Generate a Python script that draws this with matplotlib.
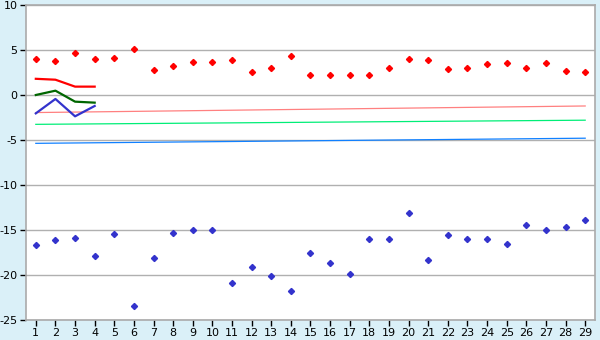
import matplotlib

matplotlib.use("Agg")
import matplotlib.pyplot as plt

plt.rcParams["axes.unicode_minus"] = False
plt.rcParams["font.family"] = ["DejaVu Sans"]

days = list(range(1, 30))

high_pts = [4.0, 3.74, 4.63, 4.0, 4.07, 5.07, 2.74, 3.18, 3.63, 3.63,
            3.85, 2.52, 2.96, 4.3, 2.18, 2.18, 2.18, 2.18, 2.96, 3.96,
            3.85, 2.85, 2.96, 3.41, 3.52, 2.96, 3.52, 2.63, 2.52]
low_pts = [-16.7, -16.15, -15.93, -17.93, -15.48, -23.48, -18.15, -15.37, -15.04, -15.04,
           -20.93, -19.15, -20.15, -21.8, -17.6, -18.7, -19.93, -16.04, -16.04, -13.15,
           -18.37, -15.6, -16.04, -16.04, -16.6, -14.48, -15.04, -14.7, -13.93]

# short series over the first four days
first_days = [1, 2, 3, 4]
red_line = [1.8, 1.7, 0.93, 0.93]
green_line = [0.0, 0.48, -0.74, -0.85]
blue_line = [-2.04, -0.44, -2.37, -1.22]

# long trend lines (start, end)
trend_days = [1, 29]
salmon_trend = [-1.95, -1.22]
mint_trend = [-3.26, -2.8]
azure_trend = [-5.37, -4.8]

fig = plt.figure(figsize=(6, 3.4), dpi=100, facecolor="#daf0f8")
ax = fig.add_axes([26 / 600, 20 / 340, 569 / 600, 315 / 340])
ax.set_facecolor("white")

ax.plot(trend_days, salmon_trend, color="#ff8080", lw=0.9)
ax.plot(trend_days, mint_trend, color="#00ee77", lw=0.9)
ax.plot(trend_days, azure_trend, color="#1080ff", lw=0.9)

ax.plot(first_days, red_line, color="#ff0000", lw=1.6)
ax.plot(first_days, green_line, color="#006600", lw=1.6)
ax.plot(first_days, blue_line, color="#3333cc", lw=1.6)

ax.plot(days, high_pts, ls="none", marker="D", ms=3.1, color="#ff0000", mec="#ff0000")
ax.plot(days, low_pts, ls="none", marker="D", ms=3.1, color="#3333cc", mec="#3333cc")

ax.set_xlim(0.5, 29.5)
ax.set_ylim(-25, 10)
ax.set_xticks(days)
ax.set_yticks([10, 5, 0, -5, -10, -15, -20, -25])
ax.grid(axis="y", color="#b0b0b0", lw=1)
ax.set_axisbelow(True)
ax.tick_params(axis="both", labelsize=8, length=4, width=1, color="black", pad=2)
for sp in ax.spines.values():
    sp.set_color("#aaaaaa")
    sp.set_linewidth(1.2)

fig.savefig("out.png", dpi=100, facecolor=fig.get_facecolor())
